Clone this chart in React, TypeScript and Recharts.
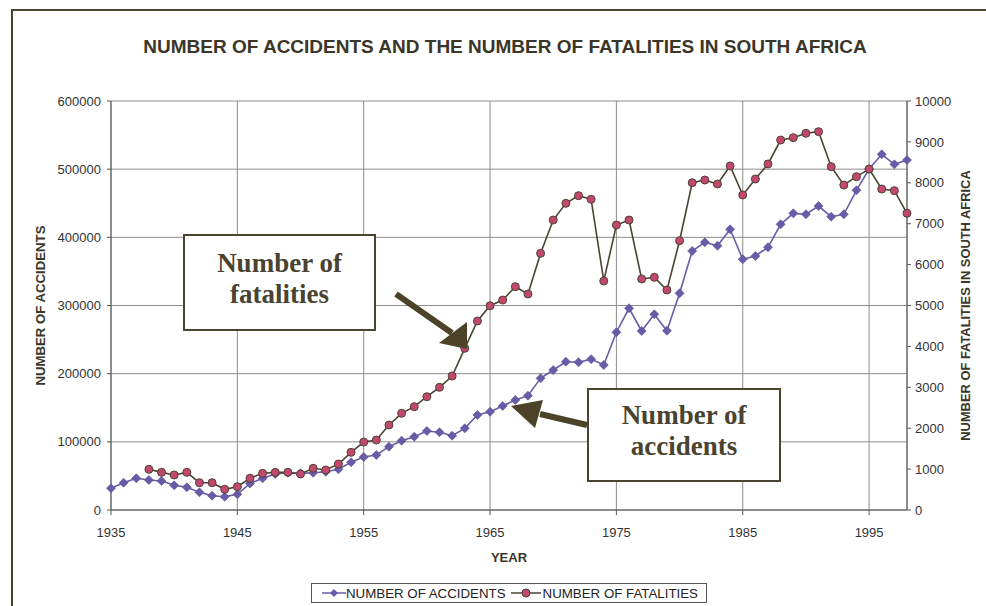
import { LineChart, Line, XAxis, YAxis, CartesianGrid, Legend } from 'recharts';

// yearly figures
const years = [
  1935, 1936, 1937, 1938, 1939, 1940, 1941, 1942, 1943, 1944,
  1945, 1946, 1947, 1948, 1949, 1950, 1951, 1952, 1953, 1954,
  1955, 1956, 1957, 1958, 1959, 1960, 1961, 1962, 1963, 1964,
  1965, 1966, 1967, 1968, 1969, 1970, 1971, 1972, 1973, 1974,
  1975, 1976, 1977, 1978, 1979, 1980, 1981, 1982, 1983, 1984,
  1985, 1986, 1987, 1988, 1989, 1990, 1991, 1992, 1993, 1994,
  1995, 1996, 1997, 1998,
];

const accidents = [
  32000, 40000, 46500, 44000, 42500, 36200, 33300, 26000, 21000, 19500,
  23000, 39000, 46500, 52800, 54700, 53800, 54700, 56200, 59700, 70000,
  77700, 80700, 92900, 101700, 107500, 115900, 114000, 109000, 119800, 139400,
  144200, 152600, 161400, 167700, 193200, 205400, 217500, 216700, 221300, 212700,
  260800, 295900, 262600, 287100, 263000, 317900, 379900, 392700, 387700, 411800,
  367800, 372600, 385400, 419100, 435200, 433800, 445900, 430300, 433800, 469000,
  500200, 521800, 507100, 513400,
];

const fatalities = [
  null, null, null, 995, 920, 856, 920, 668, 668, 506,
  570, 775, 897, 920, 920, 880, 1020, 978, 1125, 1410,
  1660, 1711, 2078, 2364, 2526, 2770, 3000, 3276, 3953, 4621,
  4995, 5134, 5460, 5281, 6276, 7090, 7498, 7685, 7597, 5600,
  6968, 7090, 5648, 5689, 5379, 6584, 8002, 8068, 7971, 8411,
  7702, 8093, 8460, 9046, 9103, 9210, 9250, 8394, 7946, 8150,
  8337, 7848, 7807, 7254,
];

const yearTicks = [1935, 1945, 1955, 1965, 1975, 1985, 1995];
const accidentTicks = [0, 100000, 200000, 300000, 400000, 500000, 600000];
const fatalityTicks = [0, 1000, 2000, 3000, 4000, 5000, 6000, 7000, 8000, 9000, 10000];

const data = years.map((year, i) => ({
  year,
  accidents: accidents[i],
  fatalities: fatalities[i],
}));

const PURPLE = '#6a5ba8';
const OLIVE = '#4a4432';
const RED = '#c4486e';
const INK = '#3a3628';
const FONT = '"Liberation Sans", Arial, sans-serif';
const SERIF = '"Liberation Serif", "Times New Roman", serif';

const Diamond = (props: any) => {
  const { cx, cy, index } = props;
  if (cx == null || cy == null) return <g key={`d-${index}`} />;
  const r = 4.5;
  return (
    <polygon
      key={`d-${index}`}
      points={`${cx},${cy - r} ${cx + r},${cy} ${cx},${cy + r} ${cx - r},${cy}`}
      fill={PURPLE}
      stroke="#574a92"
      strokeWidth={0.6}
    />
  );
};

const LegendBox = () => (
  <div
    style={{
      border: '1px solid #555',
      height: 20,
      boxSizing: 'border-box',
      display: 'flex',
      alignItems: 'center',
      fontFamily: FONT,
      fontSize: 13.3,
      color: '#222',
      padding: '0 4px 0 10px',
      whiteSpace: 'nowrap',
      background: '#fff',
    }}
  >
    <svg width={24} height={10}>
      <line x1={0} y1={5} x2={24} y2={5} stroke={PURPLE} strokeWidth={1.5} />
      <polygon points="12,1 16,5 12,9 8,5" fill={PURPLE} />
    </svg>
    <span>NUMBER OF ACCIDENTS</span>
    <svg width={30} height={10} style={{ marginLeft: 5, marginRight: 2 }}>
      <line x1={0} y1={5} x2={30} y2={5} stroke={OLIVE} strokeWidth={1.5} />
      <circle cx={15} cy={5} r={4} fill={RED} stroke={OLIVE} strokeWidth={1} />
    </svg>
    <span>NUMBER OF FATALITIES</span>
  </div>
);

const boxStyle = (left: number, top: number, width: number, height: number) => ({
  position: 'absolute' as const,
  left,
  top,
  width,
  height,
  boxSizing: 'border-box' as const,
  border: `2px solid ${OLIVE}`,
  background: '#fff',
  display: 'flex',
  flexDirection: 'column' as const,
  justifyContent: 'center',
  alignItems: 'center',
  fontFamily: SERIF,
  fontWeight: 'bold' as const,
  fontSize: 27,
  lineHeight: '31px',
  color: '#4a4330',
  paddingBottom: 8,
});

export default function App() {
  return (
    <div style={{ position: 'absolute', left: 0, top: 0, width: 986, height: 606, overflow: 'hidden', background: '#fff' }}>
      {/* scanned page frame */}
      <div
        style={{
          position: 'absolute',
          left: 11,
          top: 9,
          width: 1000,
          height: 620,
          borderLeft: `2px solid ${OLIVE}`,
          borderTop: `2px solid ${OLIVE}`,
        }}
      />
      <div
        style={{
          position: 'absolute',
          left: 0,
          width: 1010,
          top: 36,
          textAlign: 'center',
          fontFamily: FONT,
          fontWeight: 'bold',
          fontSize: 19,
          color: INK,
        }}
      >
        NUMBER OF ACCIDENTS AND THE NUMBER OF FATALITIES IN SOUTH AFRICA
      </div>
      <div style={{ position: 'absolute', left: 0, top: 0 }}>
        <LineChart width={986} height={606} data={data} margin={{ top: 101, right: 0, bottom: 40, left: 11 }}>
          <CartesianGrid yAxisId="left" stroke="#8c8c8c" strokeWidth={1} />
          <XAxis
            dataKey="year"
            type="number"
            domain={[1935, 1998]}
            ticks={yearTicks}
            height={56}
            stroke="#555"
            tickSize={5}
            tickMargin={13}
            tick={{ fill: '#333', fontSize: 13, fontFamily: FONT }}
            label={{ value: 'YEAR', position: 'insideBottom', offset: 4, fill: INK, fontSize: 13, fontWeight: 'bold', fontFamily: FONT }}
          />
          <YAxis
            yAxisId="left"
            domain={[0, 600000]}
            ticks={accidentTicks}
            width={100}
            stroke="#555"
            tickSize={4}
            tickMargin={6}
            tick={{ fill: '#333', fontSize: 13, fontFamily: FONT }}
            label={{
              value: 'NUMBER OF ACCIDENTS',
              angle: -90,
              position: 'insideLeft',
              offset: 29,
              fill: INK,
              fontSize: 13.2,
              fontWeight: 'bold',
              fontFamily: FONT,
              style: { textAnchor: 'middle' },
            }}
          />
          <YAxis
            yAxisId="right"
            orientation="right"
            domain={[0, 10000]}
            ticks={fatalityTicks}
            width={79}
            stroke="#555"
            tickSize={4}
            tickMargin={4}
            tick={{ fill: '#333', fontSize: 13, fontFamily: FONT }}
            label={{
              value: 'NUMBER OF FATALITIES IN SOUTH AFRICA',
              angle: -90,
              position: 'insideRight',
              offset: 21,
              fill: INK,
              fontSize: 12.9,
              fontWeight: 'bold',
              fontFamily: FONT,
              style: { textAnchor: 'middle' },
            }}
          />
          <Legend
            verticalAlign="middle"
            align="center"
            layout="horizontal"
            wrapperStyle={{ top: 583, left: 311, width: 396, height: 20 }}
            content={() => <LegendBox />}
          />
          <Line
            yAxisId="left"
            dataKey="accidents"
            name="NUMBER OF ACCIDENTS"
            stroke={PURPLE}
            strokeWidth={1.6}
            dot={Diamond}
            activeDot={false}
            isAnimationActive={false}
          />
          <Line
            yAxisId="right"
            dataKey="fatalities"
            name="NUMBER OF FATALITIES"
            stroke={OLIVE}
            strokeWidth={1.6}
            dot={{ r: 4, fill: RED, stroke: OLIVE, strokeWidth: 1 }}
            activeDot={false}
            isAnimationActive={false}
          />
        </LineChart>
      </div>
      {/* callout arrows */}
      <svg width={986} height={606} style={{ position: 'absolute', left: 0, top: 0, pointerEvents: 'none' }}>
        <line x1={396} y1={294} x2={452} y2={333} stroke="#4b4228" strokeWidth={6} />
        <polygon points="467,349 439,343 467,322" fill="#4b4228" />
        <line x1={587} y1={425} x2={540} y2={414} stroke="#4b4228" strokeWidth={6} />
        <polygon points="511,406 543,400 535,428" fill="#4b4228" />
      </svg>
      <div style={boxStyle(183, 234, 193, 97)}>
        <div>Number of</div>
        <div>fatalities</div>
      </div>
      <div style={boxStyle(587, 388, 194, 94)}>
        <div>Number of</div>
        <div>accidents</div>
      </div>
    </div>
  );
}
